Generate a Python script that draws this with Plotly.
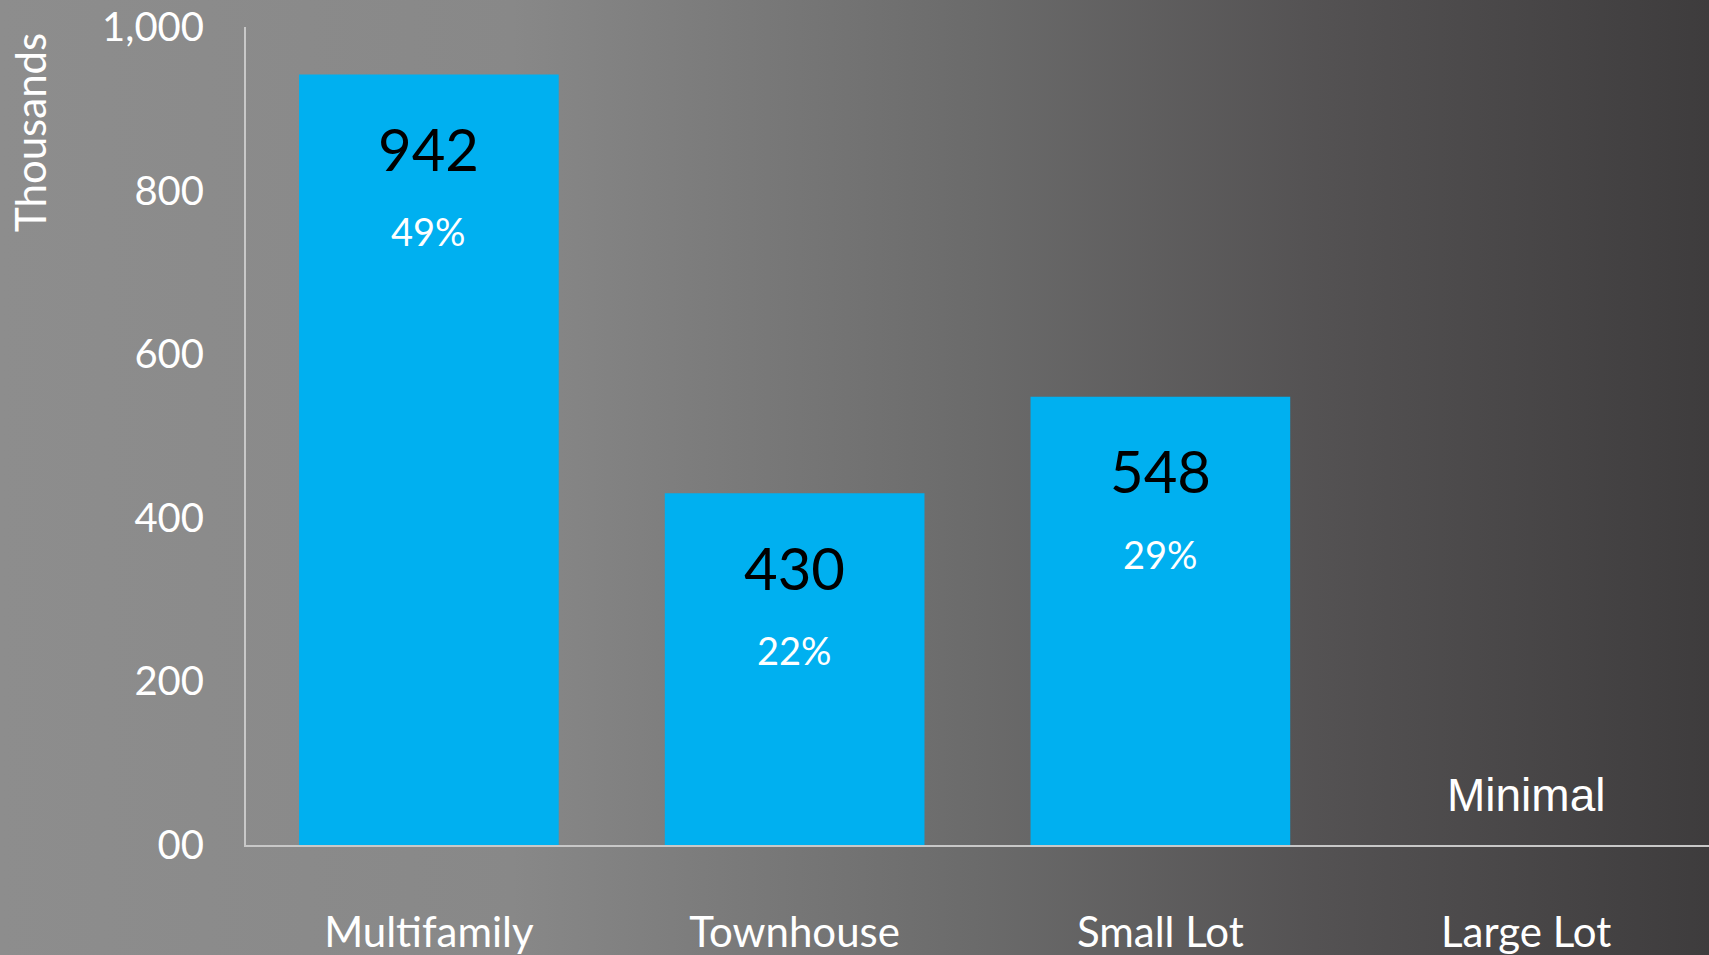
import base64
import plotly.graph_objects as go

categories = ["Multifamily", "Townhouse", "Small Lot", "Large Lot"]
values = [942, 430, 548, 0]
value_labels = ["942", "430", "548", ""]
percent_labels = ["49%", "22%", "29%", ""]
note_text = "Minimal"
note_category = "Large Lot"
y_tick_vals = [0, 200, 400, 600, 800, 1000]
y_tick_text = ["00", "200", "400", "600", "800", "1,000"]
y_title = "Thousands"

W, H = 1709, 955
ML, MR, MT, MB = 246, 0, 27, 110
PW, PH = W - ML - MR, H - MT - MB

svg = f'''<svg xmlns="http://www.w3.org/2000/svg" width="{W}" height="{H}" preserveAspectRatio="none">
<defs><linearGradient id="g" x1="0" y1="0" x2="1" y2="0">
<stop offset="0" stop-color="#8d8d8d"/>
<stop offset="0.30" stop-color="#888888"/>
<stop offset="0.57" stop-color="#6b6b6b"/>
<stop offset="0.77" stop-color="#545253"/>
<stop offset="1" stop-color="#3e3c3d"/>
</linearGradient></defs>
<rect width="{W}" height="{H}" fill="url(#g)"/></svg>'''
bg_uri = "data:image/svg+xml;base64," + base64.b64encode(svg.encode()).decode()

fig = go.Figure()
fig.add_trace(go.Bar(
    x=categories, y=values, marker=dict(color="#00b0f0", line=dict(width=0)),
    hoverinfo="skip", showlegend=False,
))

annotations = []
for c, v, vl, pl in zip(categories, values, value_labels, percent_labels):
    if vl:
        annotations.append(dict(x=c, y=v, xref="x", yref="y", text=vl, showarrow=False,
                                yanchor="middle", yshift=-74,
                                font=dict(family="Lato", size=58, color="#000000")))
    if pl:
        annotations.append(dict(x=c, y=v, xref="x", yref="y", text=pl, showarrow=False,
                                yanchor="middle", yshift=-157,
                                font=dict(family="Lato", size=38, color="#ffffff")))
annotations.append(dict(x=note_category, y=0, xref="x", yref="y", text=note_text, showarrow=False,
                        yanchor="middle", yshift=50,
                        font=dict(family="Liberation Sans", size=46, color="#ffffff")))
annotations.append(dict(x=(30 - ML) / PW, y=(845 - 133) / PH, xref="paper", yref="paper",
                        text=y_title, showarrow=False, textangle=-90,
                        xanchor="center", yanchor="middle",
                        font=dict(family="Lato", size=42, color="#ffffff")))

fig.update_layout(
    width=W, height=H,
    margin=dict(l=ML, r=MR, t=MT, b=MB, autoexpand=False),
    paper_bgcolor="#6b6b6b", plot_bgcolor="rgba(0,0,0,0)",
    bargap=0.29,
    annotations=annotations,
    images=[dict(source=bg_uri, xref="paper", yref="paper",
                 x=-ML / PW, y=1 + MT / PH, sizex=W / PW, sizey=H / PH,
                 xanchor="left", yanchor="top", sizing="stretch", layer="below")],
    xaxis=dict(range=[-0.5, 3.5], showgrid=False, zeroline=False, showline=True,
               linecolor="#c8c8c8", linewidth=2, ticks="", ticklabelstandoff=50,
               automargin=False,
               tickfont=dict(family="Lato", size=42, color="#ffffff")),
    yaxis=dict(range=[0, 1000], tickvals=y_tick_vals, ticktext=y_tick_text,
               showgrid=False, zeroline=False, showline=True,
               linecolor="#c8c8c8", linewidth=2, ticks="", ticklabelstandoff=32,
               automargin=False,
               tickfont=dict(family="Lato", size=40, color="#ffffff")),
)

fig.write_html("out.html", config={"displayModeBar": False, "staticPlot": True},
               post_script="document.body.style.margin='0';document.body.style.overflow='hidden';")
